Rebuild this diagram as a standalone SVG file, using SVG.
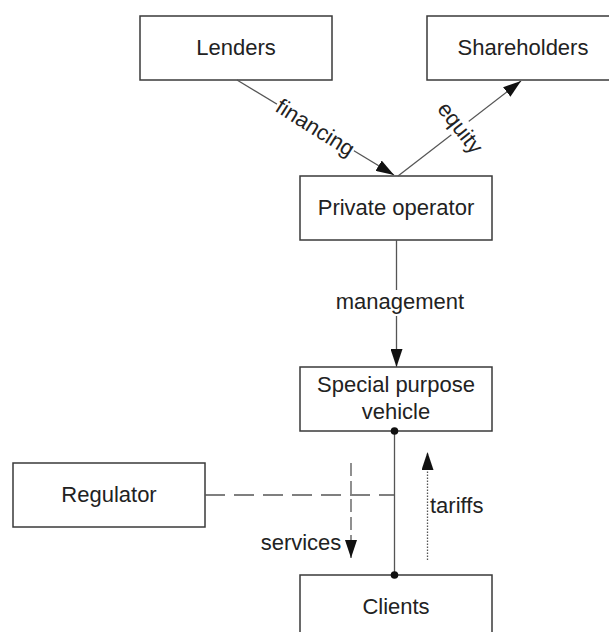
<svg xmlns="http://www.w3.org/2000/svg" width="609" height="632" viewBox="0 0 609 632">
<style>
.box{fill:#fff;stroke:#3a3a3a;stroke-width:1.5}
.t{font-family:"Liberation Sans",Arial,sans-serif;font-size:22px;fill:#222;text-anchor:middle}
.lb{font-family:"Liberation Sans",Arial,sans-serif;font-size:22px;fill:#222;text-anchor:middle}
.ln{fill:none;stroke:#555;stroke-width:1.3}
.bg{fill:#fff;stroke:none}
</style>
<defs>
<marker id="arr" markerUnits="userSpaceOnUse" markerWidth="20" markerHeight="12" refX="18" refY="6" orient="auto">
<path d="M0,0 L18,6 L0,12 Z" fill="#111"/>
</marker>
</defs>
<rect width="609" height="632" fill="#fff"/>
<g id="lenders"><rect class="box" x="140" y="16" width="192" height="64"/><text class="t" x="236" y="55">Lenders</text></g>
<g id="shareholders"><rect class="box" x="427" y="16" width="192" height="64"/><text class="t" x="523" y="55">Shareholders</text></g>
<g id="private-operator"><rect class="box" x="300" y="176" width="192" height="64"/><text class="t" x="396" y="215">Private operator</text></g>
<g id="spv"><rect class="box" x="300" y="367" width="192" height="64"/><text class="t" x="396" y="392">Special purpose</text><text class="t" x="396" y="419">vehicle</text></g>
<g id="regulator"><rect class="box" x="13" y="463" width="192" height="64"/><text class="t" x="109" y="502">Regulator</text></g>
<g id="clients"><rect class="box" x="300" y="575" width="192" height="64"/><text class="t" x="396" y="614">Clients</text></g>
<g id="connectors">
<line class="ln" x1="237" y1="80" x2="394" y2="175" marker-end="url(#arr)"/>
<g transform="translate(315,128) rotate(32)"><rect class="bg" x="-45" y="-13" width="90" height="24"/><text class="lb" x="0" y="7">financing</text></g>
<line class="ln" x1="398" y1="176" x2="521" y2="81" marker-end="url(#arr)"/>
<g transform="translate(460,128) rotate(52)"><rect class="bg" x="-31" y="-11" width="62" height="22"/><text class="lb" x="0" y="7">equity</text></g>
<line class="ln" x1="396.5" y1="240" x2="396.5" y2="367" marker-end="url(#arr)"/>
<rect class="bg" x="333" y="290" width="136" height="26"/>
<text class="lb" x="400" y="309">management</text>
<line class="ln" x1="394.5" y1="431" x2="394.5" y2="575"/>
<circle cx="394.5" cy="431" r="3.8" fill="#111"/>
<circle cx="394.5" cy="575" r="3.8" fill="#111"/>
<line class="ln" x1="205" y1="495" x2="394" y2="495" stroke-dasharray="20 9"/>
<line class="ln" x1="351" y1="463" x2="351" y2="558" stroke-dasharray="13 5" marker-end="url(#arr)"/>
<text class="lb" x="301" y="550">services</text>
<line class="ln" x1="427.5" y1="560" x2="427.5" y2="452" stroke-dasharray="1.5 1.5" marker-end="url(#arr)"/>
<text class="lb" x="430" y="513" style="text-anchor:start">tariffs</text>
</g>
</svg>
